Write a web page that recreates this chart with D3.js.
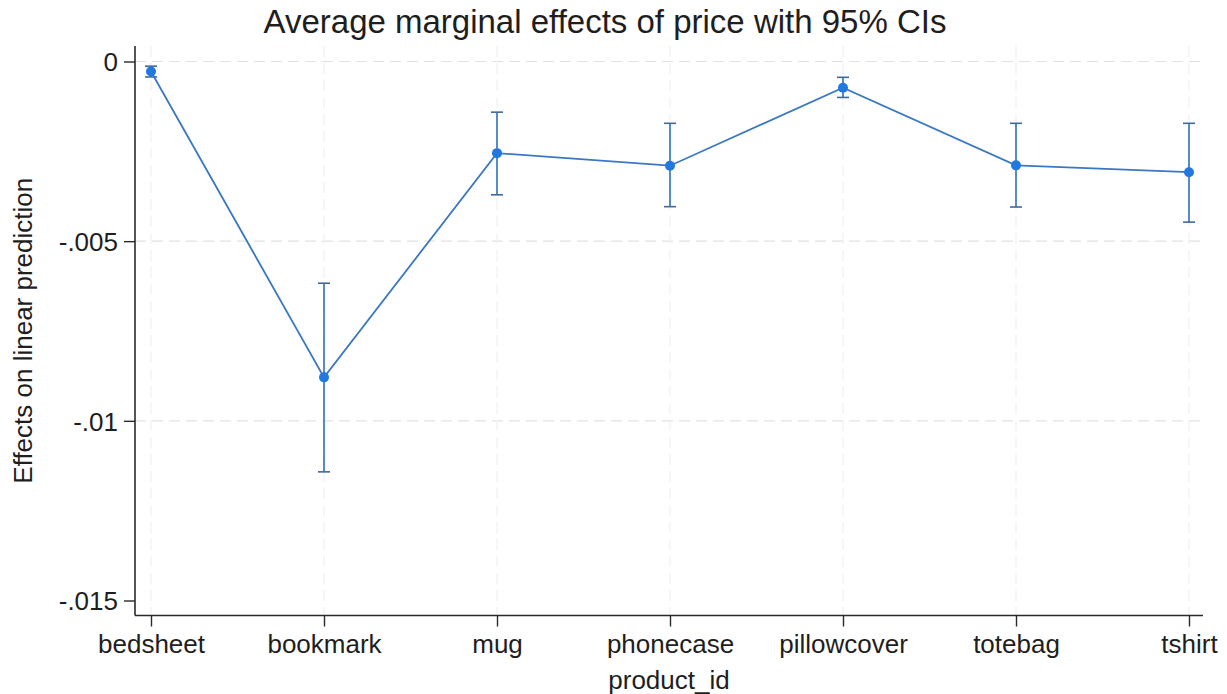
<!DOCTYPE html>
<html>
<head>
<meta charset="utf-8">
<script src="https://cdn.jsdelivr.net/npm/d3@7"></script>
<style>
  html, body { margin: 0; padding: 0; background: #fff; }
  svg { display: block; font-family: "Liberation Sans", Arial, Helvetica, sans-serif; }
</style>
</head>
<body>
<svg id="chart" width="1227" height="694"></svg>
<script>
// Average marginal effects of price by product, with 95% confidence intervals
const products = ["bedsheet", "bookmark", "mug", "phonecase", "pillowcover", "totebag", "tshirt"];
const effects  = [-0.00028, -0.00879, -0.00255, -0.00290, -0.00073, -0.00289, -0.00308];
const ciLower  = [-0.00043, -0.01142, -0.00371, -0.00404, -0.00100, -0.00405, -0.00447];
const ciUpper  = [-0.00013, -0.00617, -0.00141, -0.00172, -0.00044, -0.00172, -0.00172];
const yTicks   = [0, -0.005, -0.01, -0.015];
const yTickLabels = ["0", "-.005", "-.01", "-.015"];

const rows = products.map((p, i) => ({ p, v: effects[i], lo: ciLower[i], hi: ciUpper[i] }));

const svg = d3.select("#chart");
const plot = { left: 135, right: 1203, top: 46, bottom: 615.5 };

const x = d3.scalePoint().domain(products).range([151, 1189]);
const y = d3.scaleLinear().domain([-0.015, 0]).range([600.5, 61.5]);

const lineCol = "#3a78c2";
const capCol = "#41699a";
const markCol = "#2178e0";
const axisCol = "#2a2a2a";

// grid
const grid = svg.append("g");
grid.selectAll("line.h").data(yTicks.filter(t => t > -0.015)).join("line")
  .attr("x1", plot.left).attr("x2", plot.right)
  .attr("y1", d => y(d)).attr("y2", d => y(d))
  .attr("stroke", "#e2e2e2").attr("stroke-width", 1.2).attr("stroke-dasharray", "11,6");
grid.selectAll("line.v").data(products).join("line")
  .attr("x1", d => x(d)).attr("x2", d => x(d))
  .attr("y1", plot.top).attr("y2", plot.bottom)
  .attr("stroke", "#f1f1f1").attr("stroke-width", 1.2).attr("stroke-dasharray", "11,6");

// axes
const yAxis = d3.axisLeft(y).tickValues(yTicks)
  .tickFormat((d, i) => yTickLabels[i]).tickSize(11).tickPadding(6);
const gy = svg.append("g").attr("transform", `translate(${plot.left},0)`).call(yAxis);
gy.select(".domain").remove();
gy.append("line").attr("x1", 0).attr("x2", 0).attr("y1", plot.top).attr("y2", plot.bottom)
  .attr("stroke", axisCol).attr("stroke-width", 1.6);
gy.selectAll(".tick line").attr("stroke", axisCol).attr("stroke-width", 1.4);
gy.selectAll(".tick text").attr("font-size", 26).attr("fill", "#1e1e1e").attr("dy", "0.36em")
  .attr("font-family", "Liberation Sans, Arial, sans-serif");

const xAxis = d3.axisBottom(x).tickSize(11).tickPadding(8);
const gx = svg.append("g").attr("transform", `translate(0,${plot.bottom})`).call(xAxis);
gx.select(".domain").remove();
gx.append("line").attr("x1", plot.left).attr("x2", plot.right).attr("y1", 0).attr("y2", 0)
  .attr("stroke", axisCol).attr("stroke-width", 1.6);
gx.selectAll(".tick line").attr("stroke", axisCol).attr("stroke-width", 1.4);
gx.selectAll(".tick text").attr("font-size", 26).attr("fill", "#1e1e1e")
  .attr("font-family", "Liberation Sans, Arial, sans-serif");

// titles
svg.append("text").attr("x", 605).attr("y", 33).attr("text-anchor", "middle")
  .attr("font-size", 33).attr("fill", "#1e1e1e").text("Average marginal effects of price with 95% CIs");
svg.append("text").attr("x", (plot.left + plot.right) / 2).attr("y", 689).attr("text-anchor", "middle")
  .attr("font-size", 26).attr("fill", "#1e1e1e").text("product_id");
svg.append("text").attr("transform", `translate(32,${(plot.top + plot.bottom) / 2}) rotate(-90)`)
  .attr("text-anchor", "middle").attr("font-size", 26).attr("fill", "#1e1e1e")
  .text("Effects on linear prediction");

// confidence intervals
const ci = svg.append("g").attr("fill", "none");
rows.forEach(d => {
  const cx = x(d.p);
  ci.append("line").attr("x1", cx).attr("x2", cx).attr("y1", y(d.hi)).attr("y2", y(d.lo))
    .attr("stroke", lineCol).attr("stroke-width", 1.7);
  ci.append("line").attr("x1", cx - 6).attr("x2", cx + 6).attr("y1", y(d.hi)).attr("y2", y(d.hi))
    .attr("stroke", capCol).attr("stroke-width", 1.6);
  ci.append("line").attr("x1", cx - 6).attr("x2", cx + 6).attr("y1", y(d.lo)).attr("y2", y(d.lo))
    .attr("stroke", capCol).attr("stroke-width", 1.6);
});

// connected estimates
svg.append("path").datum(rows)
  .attr("d", d3.line().x(d => x(d.p)).y(d => y(d.v)))
  .attr("fill", "none").attr("stroke", lineCol).attr("stroke-width", 1.8);
svg.append("g").selectAll("circle").data(rows).join("circle")
  .attr("cx", d => x(d.p)).attr("cy", d => y(d.v)).attr("r", 5)
  .attr("fill", markCol);
</script>
</body>
</html>
